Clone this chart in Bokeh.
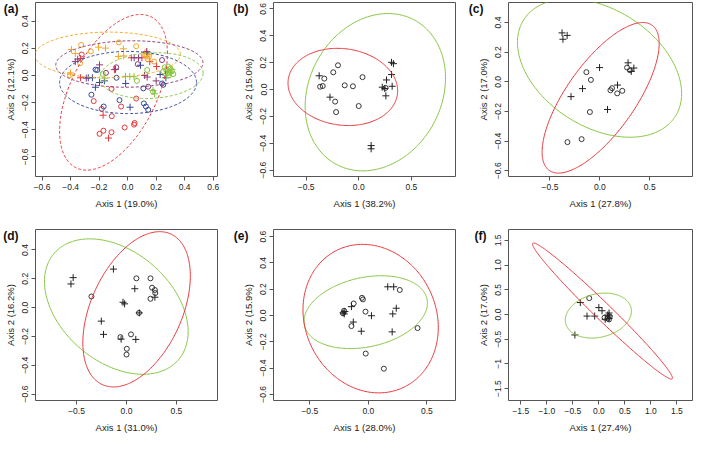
import numpy as np
from bokeh.plotting import figure
from bokeh.layouts import gridplot
from bokeh.models import Range1d, FixedTicker, LinearAxis
from bokeh.embed import file_html
from bokeh.resources import INLINE

RED = "#E8363B"
GREEN = "#86C540"
ORANGE = "#F5A623"
NAVY = "#34479A"
PURPLE = "#8C3B7C"
INK = "#222222"
BOX = "#555555"

# ---------------- panel (a) data ----------------
a_red_o_x = [-0.322, -0.113, -0.238, -0.182, -0.111, -0.046, -0.021, -0.197, -0.170, -0.113, 0.060, 0.049, 0.045]
a_red_o_y = [0.154, -0.099, -0.189, -0.246, -0.300, -0.229, -0.383, -0.430, -0.407, -0.418, -0.170, -0.350, -0.362]
a_red_p_x = [-0.329, -0.172, -0.134, 0.132, 0.155, 0.203, -0.093, 0.026, 0.100, -0.330]
a_red_p_y = [0.125, -0.293, -0.461, 0.173, 0.102, 0.066, 0.043, 0.130, 0.130, -0.017]
a_org_o_x = [-0.326, -0.258, -0.333, -0.062, -0.405, 0.060, 0.125, 0.140, 0.185, 0.150]
a_org_o_y = [0.225, 0.177, 0.090, 0.243, 0.002, 0.215, 0.150, 0.120, 0.102, 0.140]
a_org_p_x = [-0.394, -0.367, -0.204, -0.155, -0.030, -0.028, -0.401, 0.120, 0.135, 0.150, -0.065]
a_org_p_y = [0.191, 0.161, 0.208, 0.201, 0.196, 0.144, 0.019, 0.165, 0.140, 0.155, 0.140]
a_pur_p_x = [-0.367, -0.197, 0.046, 0.076, 0.119, 0.137, -0.290, -0.085, 0.200, 0.135, -0.350]
a_pur_p_y = [0.102, 0.078, 0.130, 0.130, 0.000, -0.012, -0.020, 0.045, -0.040, 0.175, 0.120]
a_pur_o_x = [-0.152, 0.241, 0.071, 0.144, -0.080]
a_pur_o_y = [0.019, 0.113, 0.083, -0.083, 0.060]
a_nav_p_x = [-0.276, -0.247, -0.197, -0.163, -0.226, 0.017, -0.014, 0.228, 0.268, 0.090]
a_nav_p_y = [-0.017, -0.017, -0.052, -0.040, -0.087, -0.234, -0.059, 0.007, -0.017, 0.075]
a_nav_o_x = [-0.225, -0.213, -0.078, -0.254, -0.168, -0.057, 0.241, 0.250, 0.110, 0.114, 0.128, 0.144]
a_nav_o_y = [0.043, 0.040, -0.017, -0.142, -0.229, -0.182, -0.059, -0.069, -0.095, -0.206, -0.229, -0.253]
a_grn_o_x = [-0.175, 0.137, 0.065, 0.250, 0.270, 0.280, 0.300, 0.290, 0.310, 0.260, 0.320, 0.178, 0.285]
a_grn_o_y = [0.012, 0.040, -0.040, 0.030, 0.040, 0.020, 0.050, 0.000, 0.030, 0.060, 0.010, -0.120, 0.065]
a_grn_p_x = [-0.015, 0.015, 0.280, 0.300, 0.270, 0.178, 0.189, 0.045, -0.160, 0.310]
a_grn_p_y = [-0.007, -0.007, 0.030, 0.020, 0.000, -0.111, -0.135, -0.010, -0.020, 0.045]
# ellipses: centre x, centre y, half-extent x, half-extent y, correlation
a_ell_colors = [ORANGE, PURPLE, NAVY, GREEN, RED]
a_ell_cx = [-0.140, 0.012, 0.003, 0.167, -0.099]
a_ell_cy = [0.151, 0.084, -0.052, -0.001, -0.124]
a_ell_sx = [0.510, 0.516, 0.480, 0.362, 0.378]
a_ell_sy = [0.168, 0.171, 0.229, 0.169, 0.573]
a_ell_r = [0.02, 0.05, 0.0, 0.1, 0.5]

# ---------------- panel (b) ----------------
b_o_x = [-0.197, -0.242, -0.327, -0.367, -0.342, -0.133, -0.055, 0.036, -0.224, -0.215, 0.000, 0.255]
b_o_y = [0.180, 0.128, 0.081, 0.021, 0.026, 0.031, 0.024, 0.092, -0.090, -0.168, -0.123, 0.012]
b_p_x = [-0.376, -0.273, 0.312, 0.330, 0.312, 0.264, 0.224, 0.248, 0.318, 0.258, 0.118, 0.118]
b_p_y = [0.102, -0.057, 0.202, 0.192, 0.111, 0.071, 0.017, 0.007, 0.024, -0.047, -0.417, -0.441]
b_ell_cx = [0.158, -0.151]
b_ell_cy = [-0.020, 0.019]
b_ell_sx = [0.667, 0.521]
b_ell_sy = [0.585, 0.287]
b_ell_r = [0.18, -0.10]

# ---------------- panel (c) ----------------
c_p_x = [-0.379, -0.328, -0.370, -0.003, 0.283, 0.341, 0.315, -0.174, -0.289, 0.177, 0.077]
c_p_y = [0.330, 0.313, 0.287, 0.096, 0.128, 0.093, 0.070, -0.046, -0.100, -0.022, -0.187]
c_o_x = [-0.135, -0.090, 0.273, 0.302, 0.122, 0.106, 0.174, 0.225, -0.100, -0.325, -0.183]
c_o_y = [0.065, 0.013, 0.096, 0.078, -0.043, -0.057, -0.078, -0.061, -0.204, -0.407, -0.387]
c_ell_cx = [-0.003, 0.008]
c_ell_cy = [0.093, -0.108]
c_ell_sx = [0.823, 0.587]
c_ell_sy = [0.467, 0.508]
c_ell_r = [-0.37, 0.72]

# ---------------- panel (d) ----------------
d_p_x = [-0.534, -0.556, -0.131, 0.083, -0.035, -0.019, 0.128, 0.284, -0.252, -0.230, -0.054, 0.093]
d_p_y = [0.208, 0.164, 0.267, 0.131, 0.037, 0.026, -0.037, 0.072, -0.094, -0.186, -0.219, -0.221]
d_o_x = [0.099, 0.240, 0.256, 0.284, 0.288, 0.240, -0.351, 0.125, -0.061, 0.045, 0.003, 0.000]
d_o_y = [0.203, 0.203, 0.138, 0.122, 0.101, 0.061, 0.077, -0.037, -0.205, -0.186, -0.286, -0.326]
d_ell_cx = [-0.102, 0.101]
d_ell_cy = [0.007, -0.012]
d_ell_sx = [0.719, 0.538]
d_ell_sy = [0.470, 0.539]
d_ell_r = [-0.37, 0.43]

# ---------------- panel (e) ----------------
e_p_x = [-0.215, -0.205, -0.200, -0.144, -0.128, -0.060, 0.027, 0.166, 0.217, 0.239, 0.209, 0.204]
e_p_y = [0.020, 0.012, 0.030, 0.067, -0.050, -0.120, -0.002, 0.218, 0.218, 0.055, 0.012, -0.125]
e_o_x = [-0.207, -0.217, -0.125, -0.054, -0.046, -0.024, -0.144, 0.269, 0.421, -0.022, 0.133]
e_o_y = [0.036, 0.017, 0.091, 0.134, 0.122, 0.029, -0.081, 0.194, -0.096, -0.290, -0.405]
e_ell_cx = [-0.022, 0.020]
e_ell_cy = [0.025, -0.024]
e_ell_sx = [0.527, 0.578]
e_ell_sy = [0.277, 0.565]
e_ell_r = [0.25, -0.12]

# ---------------- panel (f) ----------------
f_p_x = [-0.356, -0.227, -0.080, 0.000, 0.061, -0.460, 0.196, 0.196, 0.196, 0.123, 0.170]
f_p_y = [0.242, -0.032, -0.032, 0.140, 0.076, -0.414, 0.030, -0.030, -0.080, -0.096, -0.010]
f_o_x = [-0.184, 0.110, 0.170, 0.196, 0.210]
f_o_y = [0.331, -0.064, -0.080, -0.100, -0.040]
f_ell_cx = [-0.009, 0.070]
f_ell_cy = [-0.022, 0.070]
f_ell_sx = [0.635, 1.345]
f_ell_sy = [0.455, 1.376]
f_ell_r = [0.20, -0.985]

# ---------------- axes ----------------
ticks_06 = [-0.6, -0.4, -0.2, 0.0, 0.2, 0.4, 0.6]
labels_06 = ["\u22120.6", "\u22120.4", "\u22120.2", "0.0", "0.2", "0.4", "0.6"]
ticks_04 = [-0.6, -0.4, -0.2, 0.0, 0.2, 0.4]
labels_04 = ["\u22120.6", "\u22120.4", "\u22120.2", "0.0", "0.2", "0.4"]
ticks_05 = [-0.5, 0.0, 0.5]
labels_05 = ["\u22120.5", "0.0", "0.5"]
ticks_15 = [-1.5, -1.0, -0.5, 0.0, 0.5, 1.0, 1.5]
labels_15x = ["\u22121.5", "\u22121.0", "\u22120.5", "0.0", "0.5", "1.0", "1.5"]
labels_15y = ["\u22121.5", "\u22121", "\u22120.5", "0.0", "0.5", "1.0", "1.5"]

x_titles = ["Axis 1 (19.0%)", "Axis 1 (38.2%)", "Axis 1 (27.8%)", "Axis 1 (31.0%)", "Axis 1 (28.0%)", "Axis 1 (27.4%)"]
y_titles = ["Axis 2 (12.1%)", "Axis 2 (15.0%)", "Axis 2 (17.0%)", "Axis 2 (16.2%)", "Axis 2 (15.9%)", "Axis 2 (17.0%)"]
letters = ["(a)", "(b)", "(c)", "(d)", "(e)", "(f)"]

x_ranges = [(-0.646, 0.630), (-0.81, 0.92), (-0.916, 0.929), (-0.911, 0.911), (-0.81, 0.745), (-1.736, 1.80)]
y_ranges = [(-0.744, 0.537), (-0.647, 0.647), (-0.639, 0.535), (-0.645, 0.542), (-0.647, 0.654), (-1.74, 1.72)]

FONT = "Liberation Sans"
FRAME_H = 174


def ellipse_xy(cx, cy, sx, sy, r):
    t = np.linspace(0, 2 * np.pi, 300)
    phi = np.arccos(r)
    return cx + sx * np.cos(t), cy + sy * np.cos(t - phi)


def make_panel(i, width, left, right, height, top, bottom, xt, xl, yt, yl, letter_standoff):
    p = figure(width=width, height=height, x_range=Range1d(*x_ranges[i]), y_range=Range1d(*y_ranges[i]),
               output_backend="svg", toolbar_location=None,
               min_border_left=left, min_border_right=right, min_border_top=top, min_border_bottom=bottom)
    p.xgrid.visible = False
    p.ygrid.visible = False
    p.outline_line_color = BOX
    p.outline_line_width = 1
    p.background_fill_color = "white"
    p.border_fill_color = "white"
    for ax, tk, lb, title in ((p.xaxis[0], xt, xl, x_titles[i]), (p.yaxis[0], yt, yl, y_titles[i])):
        ax.ticker = FixedTicker(ticks=tk)
        ax.major_label_overrides = {k: v for k, v in zip(tk, lb)}
        ax.axis_line_color = None
        ax.major_tick_line_color = BOX
        ax.major_tick_out = 4
        ax.major_tick_in = 0
        ax.minor_tick_line_color = None
        ax.major_label_text_font = FONT
        ax.major_label_text_font_size = "8.5px"
        ax.major_label_text_color = INK
        ax.major_label_standoff = 3
        ax.axis_label = title
        ax.axis_label_text_font = FONT
        ax.axis_label_text_font_size = "9.5px"
        ax.axis_label_text_font_style = "normal"
        ax.axis_label_text_color = INK
        ax.axis_label_standoff = 5
    p.yaxis[0].major_label_orientation = "vertical"
    p.yaxis[0].axis_label_standoff = 4
    # panel letter, drawn as the single label of an outer, line-less left axis
    y0, y1 = y_ranges[i]
    ly = y1 - (y1 - y0) * 6.5 / FRAME_H
    lab_ax = LinearAxis(ticker=FixedTicker(ticks=[ly]), major_label_overrides={ly: letters[i]},
                        axis_line_color=None, major_tick_line_color=None, minor_tick_line_color=None,
                        major_tick_out=0, major_tick_in=0, major_label_orientation="horizontal",
                        major_label_standoff=-letter_standoff,
                        major_label_text_font=FONT, major_label_text_font_style="bold",
                        major_label_text_font_size="12px", major_label_text_color="#111111")
    p.add_layout(lab_ax, "left")
    return p


def draw_ell(p, cx, cy, sx, sy, r, color, dash="solid"):
    ex, ey = ellipse_xy(cx, cy, sx, sy, r)
    p.line(ex, ey, line_color=color, line_width=1.0, line_dash=dash)


def pts(p, x, y, marker, color, lw=1.0):
    if marker == "circle":
        p.scatter(x, y, marker="circle", size=5, fill_color=None, line_color=color, line_width=lw)
    else:
        p.scatter(x, y, marker="cross", size=7, line_color=color, line_width=lw)


# row 1: height 214 ; row 2: height 221 ; columns 230 / 235 / 228
pa = make_panel(0, 230, 32, 13, 214, 2, 38, ticks_06, labels_06, ticks_04, labels_04, 17)
pb = make_panel(1, 235, 39, 10, 214, 2, 38, ticks_05, labels_05, ticks_06, labels_06, 9)
pc = make_panel(2, 228, 40, 1, 214, 2, 38, ticks_05, labels_05, ticks_04, labels_04, 9)
pd = make_panel(3, 230, 32, 13, 221, 15, 32, ticks_05, labels_05, ticks_04, labels_04, 17)
pe = make_panel(4, 235, 39, 10, 221, 15, 32, ticks_05, labels_05, ticks_06, labels_06, 9)
pf = make_panel(5, 228, 40, 1, 221, 15, 32, ticks_15, labels_15x, ticks_15, labels_15y, 12)

# panel a
groups = [
    (a_red_o_x, a_red_o_y, "circle", RED), (a_red_p_x, a_red_p_y, "cross", RED),
    (a_org_o_x, a_org_o_y, "circle", ORANGE), (a_org_p_x, a_org_p_y, "cross", ORANGE),
    (a_pur_o_x, a_pur_o_y, "circle", PURPLE), (a_pur_p_x, a_pur_p_y, "cross", PURPLE),
    (a_nav_o_x, a_nav_o_y, "circle", NAVY), (a_nav_p_x, a_nav_p_y, "cross", NAVY),
    (a_grn_o_x, a_grn_o_y, "circle", GREEN), (a_grn_p_x, a_grn_p_y, "cross", GREEN),
]
for gx, gy, m, col in groups:
    pts(pa, gx, gy, m, col)
for k in range(len(a_ell_cx)):
    draw_ell(pa, a_ell_cx[k], a_ell_cy[k], a_ell_sx[k], a_ell_sy[k], a_ell_r[k], a_ell_colors[k], "3 2")

pair_colors = [GREEN, RED]
for p, cx, cy, sx, sy, rr, ox, oy, px_, py_ in (
        (pb, b_ell_cx, b_ell_cy, b_ell_sx, b_ell_sy, b_ell_r, b_o_x, b_o_y, b_p_x, b_p_y),
        (pc, c_ell_cx, c_ell_cy, c_ell_sx, c_ell_sy, c_ell_r, c_o_x, c_o_y, c_p_x, c_p_y),
        (pd, d_ell_cx, d_ell_cy, d_ell_sx, d_ell_sy, d_ell_r, d_o_x, d_o_y, d_p_x, d_p_y),
        (pe, e_ell_cx, e_ell_cy, e_ell_sx, e_ell_sy, e_ell_r, e_o_x, e_o_y, e_p_x, e_p_y),
        (pf, f_ell_cx, f_ell_cy, f_ell_sx, f_ell_sy, f_ell_r, f_o_x, f_o_y, f_p_x, f_p_y)):
    pts(p, ox, oy, "circle", "#222222", 0.9)
    pts(p, px_, py_, "cross", "#222222", 1.0)
    for k in range(2):
        draw_ell(p, cx[k], cy[k], sx[k], sy[k], rr[k], pair_colors[k])

grid = gridplot([[pa, pb, pc], [pd, pe, pf]], toolbar_location=None)

with open("out.html", "w") as fh:
    fh.write(file_html(grid, INLINE))
